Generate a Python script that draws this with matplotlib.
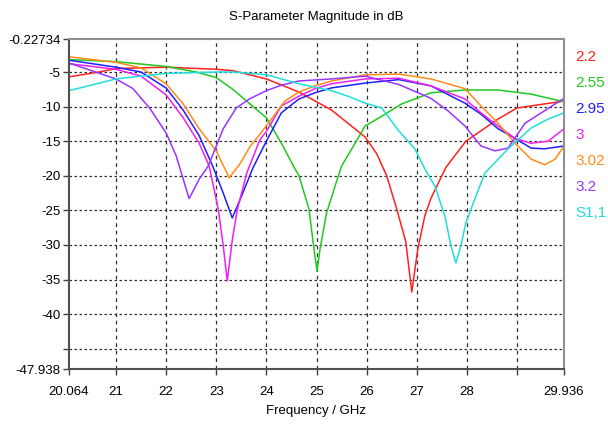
import matplotlib
matplotlib.use('Agg')
import matplotlib.pyplot as plt

plt.rcParams['font.family'] = ['Liberation Sans', 'DejaVu Sans']

# %%
# values (frequency in GHz, magnitude in dB)
f_22 = [20.064, 20.66, 21.0, 22.0, 23.0, 23.33, 24.0, 24.65, 25.3, 25.97, 26.2, 26.4, 26.6, 26.78, 26.9,
        27.02, 27.16, 27.28, 27.58, 27.98, 28.62, 29.0, 29.936]
s_22 = [-5.7, -5.0, -4.5, -4.3, -4.6, -4.8, -6.0, -7.9, -10.5, -14.4, -16.8, -20.0, -24.8, -29.5, -36.8,
        -30.6, -25.8, -23.3, -18.8, -15.0, -11.8, -10.2, -9.2]

f_255 = [20.064, 21.0, 22.0, 22.6, 23.0, 23.33, 23.72, 24.0, 24.3, 24.57, 24.65, 24.85, 24.95, 25.01,
         25.07, 25.2, 25.37, 25.5, 25.77, 25.97, 26.3, 26.7, 26.96, 27.28, 27.96, 28.62, 29.28, 29.936]
s_255 = [-3.2, -3.5, -4.2, -5.0, -5.8, -7.5, -9.9, -11.6, -15.3, -19.0, -20.0, -24.8, -30.6, -33.8,
         -30.6, -25.4, -21.5, -18.6, -15.3, -12.8, -11.4, -9.6, -8.9, -8.0, -7.6, -7.6, -8.2, -9.3]

f_295 = [20.064, 21.0, 21.5, 22.0, 22.34, 22.66, 22.93, 23.14, 23.32, 23.53, 23.73, 24.0, 24.3, 24.65,
         24.97, 25.3, 25.97, 26.64, 27.28, 27.96, 28.28, 28.62, 28.96, 29.28, 29.55, 29.936]
s_295 = [-3.3, -4.3, -5.0, -7.3, -10.5, -14.2, -18.6, -22.5, -26.1, -22.5, -18.9, -15.0, -10.9, -8.9,
         -8.0, -7.3, -6.6, -6.1, -7.0, -9.5, -11.1, -13.2, -14.6, -16.0, -16.1, -15.7]

f_3 = [20.064, 21.0, 21.5, 22.0, 22.34, 22.66, 22.86, 23.04, 23.14, 23.22, 23.32, 23.42, 23.61, 23.87,
       24.0, 24.3, 24.65, 24.97, 25.3, 25.97, 26.64, 27.28, 27.96, 28.28, 28.62, 28.96, 29.28, 29.62, 29.936]
s_3 = [-3.8, -4.6, -5.6, -8.3, -11.6, -15.3, -18.6, -24.8, -30.1, -35.2, -29.3, -24.9, -19.6, -14.8,
       -13.6, -9.9, -8.5, -7.4, -6.7, -6.0, -5.9, -7.0, -8.9, -10.9, -12.8, -14.6, -15.3, -15.0, -13.2]

f_302 = [20.064, 21.0, 21.5, 22.0, 22.34, 22.66, 23.0, 23.26, 23.48, 23.67, 23.85, 24.1, 24.37, 24.65,
         24.97, 25.3, 25.97, 26.64, 27.28, 27.96, 28.28, 28.62, 28.96, 29.28, 29.55, 29.76, 29.936]
s_302 = [-2.8, -3.6, -4.4, -6.7, -9.6, -13.2, -16.4, -20.3, -18.2, -15.8, -14.2, -11.8, -9.2, -7.9,
         -7.0, -6.3, -5.4, -5.3, -6.0, -7.4, -9.9, -12.4, -15.3, -17.6, -18.4, -17.6, -15.7]

f_32 = [20.064, 21.0, 21.34, 21.68, 22.0, 22.2, 22.46, 22.66, 22.84, 23.14, 23.4, 23.66, 24.0, 24.3,
        24.65, 25.3, 25.97, 26.64, 27.28, 27.62, 27.96, 28.28, 28.56, 28.82, 29.16, 29.936]
s_32 = [-3.7, -6.0, -7.4, -10.3, -13.8, -17.1, -23.3, -20.5, -18.6, -13.2, -10.2, -8.9, -7.7, -6.9,
        -6.3, -6.0, -5.6, -6.8, -8.8, -10.6, -12.8, -15.7, -16.4, -16.0, -12.4, -8.8]

f_s11 = [20.064, 21.0, 22.0, 23.0, 23.33, 24.0, 24.65, 25.3, 25.63, 25.97, 26.3, 26.64, 26.96, 27.16,
         27.36, 27.56, 27.68, 27.78, 27.88, 27.98, 28.16, 28.36, 28.82, 29.28, 29.62, 29.936]
s_s11 = [-7.7, -6.0, -5.2, -5.0, -5.0, -5.4, -6.7, -7.7, -8.5, -9.5, -10.2, -13.5, -16.1, -19.0,
         -21.5, -25.8, -30.1, -32.6, -30.1, -26.8, -23.3, -19.6, -16.1, -13.1, -11.8, -10.9]

curves = [('2.2', f_22, s_22, '#ff2020'),
          ('2.55', f_255, s_255, '#20c820'),
          ('2.95', f_295, s_295, '#2020ff'),
          ('3', f_3, s_3, '#f020f0'),
          ('3.02', f_302, s_302, '#ff8c1a'),
          ('3.2', f_32, s_32, '#9933ff'),
          ('S1,1', f_s11, s_s11, '#20dede')]

x_ticks = [20.064, 21, 22, 23, 24, 25, 26, 27, 28, 29, 29.936]
x_labels = ['20.064', '21', '22', '23', '24', '25', '26', '27', '28', '', '29.936']
y_ticks = [-0.22734, -5, -10, -15, -20, -25, -30, -35, -40, -45, -47.938]
y_labels = ['-0.22734', '-5', '-10', '-15', '-20', '-25', '-30', '-35', '-40', '', '-47.938']

# %%
fig = plt.figure(figsize=(6.08, 4.26), dpi=100)
ax = fig.add_axes([69 / 608, 1 - 369 / 426, 495 / 608, 330 / 426])

for name, f, s, c in curves:
    ax.plot(f, s, color=c, lw=1.1)

# dashed grid only on the inner ticks
for x in x_ticks[1:-1]:
    ax.axvline(x, color='#303030', lw=0.9, ls=(0, (3, 3)), zorder=0)
for y in y_ticks[1:-1]:
    ax.axhline(y, color='#303030', lw=0.9, ls=(0, (2, 2)), zorder=0)

ax.set_xlim(20.064, 29.936)
ax.set_ylim(-47.938, -0.22734)
ax.set_xticks(x_ticks)
ax.set_xticklabels(x_labels)
ax.set_yticks(y_ticks)
ax.set_yticklabels(y_labels)
ax.tick_params(length=4, width=1, color='#404040', labelsize=9.5, pad=2)
ax.tick_params(axis='x', pad=8)

for side in ['left', 'bottom']:
    ax.spines[side].set_color('#505050')
    ax.spines[side].set_linewidth(1.5)
for side in ['top', 'right']:
    ax.spines[side].set_color('#909090')
    ax.spines[side].set_linewidth(1.5)

ax.set_title('S-Parameter Magnitude in dB', fontsize=9.5, pad=14)
ax.set_xlabel('Frequency / GHz', fontsize=9.5, labelpad=5)

# colored labels to the right of the plot
for i, (name, f, s, c) in enumerate(curves):
    fig.text(575 / 608, 1 - (57 + 26 * i) / 426, name, color=c, fontsize=11,
             va='center', ha='left')

fig.savefig('out.png', dpi=100)
